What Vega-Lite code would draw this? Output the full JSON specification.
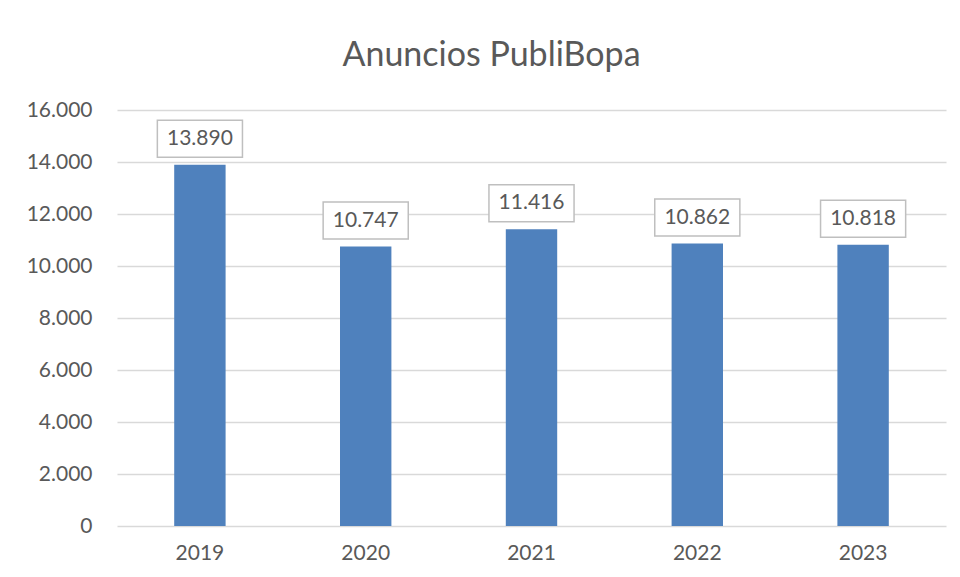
{
  "$schema": "https://vega.github.io/schema/vega-lite/v6.json",
  "autosize": "none",
  "width": 829,
  "height": 416,
  "padding": {"left": 117, "top": 110, "right": 14, "bottom": 51},
  "background": "white",
  "config": {
    "locale": {"number": {"decimal": ",", "thousands": ".", "grouping": [3], "currency": ["", " €"]}},
    "view": {"stroke": null},
    "font": "Lato"
  },
  "title": {
    "text": "Anuncios PubliBopa",
    "font": "Lato",
    "fontSize": 34,
    "fontWeight": "normal",
    "color": "#595959",
    "anchor": "middle",
    "dx": -40,
    "offset": 26
  },
  "data": {
    "values": [
      {"year": "2019", "value": 13890},
      {"year": "2020", "value": 10747},
      {"year": "2021", "value": 11416},
      {"year": "2022", "value": 10862},
      {"year": "2023", "value": 10818}
    ]
  },
  "encoding": {
    "x": {
      "field": "year",
      "type": "nominal",
      "scale": {"paddingInner": 0.69, "paddingOuter": 0.345},
      "axis": {
        "title": null,
        "labelAngle": 0,
        "labelFont": "Lato",
        "labelFontSize": 21,
        "labelColor": "#595959",
        "labelPadding": 16,
        "ticks": false,
        "domain": false
      }
    },
    "y": {
      "field": "value",
      "type": "quantitative",
      "scale": {"domain": [0, 16000]},
      "axis": {
        "title": null,
        "values": [0, 2000, 4000, 6000, 8000, 10000, 12000, 14000, 16000],
        "format": ",.0f",
        "labelFont": "Lato",
        "labelFontSize": 21,
        "labelColor": "#595959",
        "labelPadding": 25,
        "ticks": false,
        "domain": false,
        "gridColor": "#d9d9d9",
        "gridWidth": 1.5
      }
    }
  },
  "layer": [
    {"mark": {"type": "bar", "color": "#4f81bd"}},
    {
      "mark": {
        "type": "point",
        "shape": "M-2.3,-1H2.3V1H-2.3Z",
        "size": 1369,
        "filled": true,
        "fill": "white",
        "stroke": "#bfbfbf",
        "strokeWidth": 1.5,
        "opacity": 1,
        "yOffset": -26
      }
    },
    {
      "mark": {
        "type": "text",
        "font": "Lato",
        "fontSize": 21,
        "color": "#595959",
        "baseline": "middle",
        "dy": -26
      },
      "encoding": {"text": {"field": "value", "type": "quantitative", "format": ",.0f"}}
    }
  ]
}
